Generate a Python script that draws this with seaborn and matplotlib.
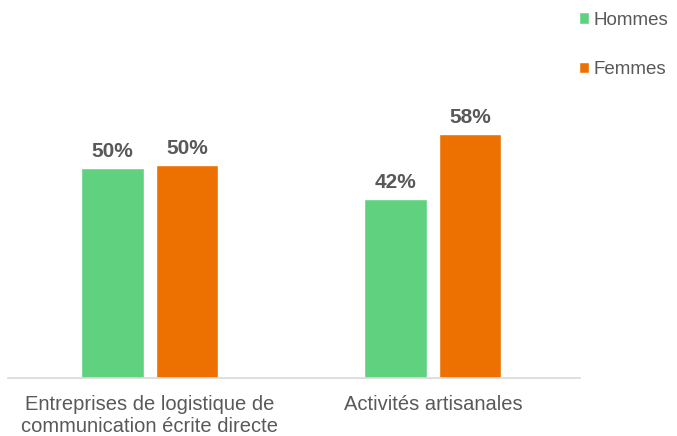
import matplotlib
matplotlib.use("Agg")
import matplotlib.pyplot as plt
import seaborn as sns
import pandas as pd

# Data
categories = ["Entreprises de logistique de\ncommunication écrite directe", "Activités artisanales"]
hommes = [49.6, 42.3]
femmes = [50.4, 57.7]
series_names = ["Hommes", "Femmes"]
palette = ["#5fd17f", "#ed7100"]
text_grey = "#595959"

df = pd.DataFrame({
    "categorie": categories * 2,
    "genre": [series_names[0]] * 2 + [series_names[1]] * 2,
    "valeur": hommes + femmes,
})

sns.set_style("white")
plt.rcParams["font.family"] = ["Liberation Sans", "DejaVu Sans"]

fig = plt.figure(figsize=(6.77, 4.36), dpi=100)
ax = fig.add_axes([0.012, 0.133, 0.845, 0.679])

sns.barplot(data=df, x="categorie", y="valeur", hue="genre", palette=palette,
            saturation=1, width=0.526, gap=0.16, ax=ax, legend=True)

for cont in ax.containers:
    ax.bar_label(cont, labels=[f"{round(v.get_height()):.0f}%" for v in cont],
                 padding=5, fontsize=15, fontweight="bold", color=text_grey)

ax.set_ylim(0, 70)
ax.set_xlim(-0.5, 1.52)
ax.set_xlabel("")
ax.set_ylabel("")
ax.set_yticks([])
ax.tick_params(axis="x", length=0, pad=12, labelsize=14.5, labelcolor=text_grey)
for lbl in ax.get_xticklabels():
    lbl.set_linespacing(1.25)
for side in ["top", "left", "right"]:
    ax.spines[side].set_visible(False)
ax.spines["bottom"].set_color("#d9d9d9")
ax.spines["bottom"].set_linewidth(1.2)

handles, labels = ax.get_legend_handles_labels()
ax.legend(handles, labels, loc="upper left", bbox_to_anchor=(0.830, 1.012),
          bbox_transform=fig.transFigure, frameon=False, fontsize=13.5,
          handlelength=0.55, handleheight=0.55, handletextpad=0.25,
          labelspacing=1.75, labelcolor=text_grey)

fig.savefig("out.png", dpi=100)
